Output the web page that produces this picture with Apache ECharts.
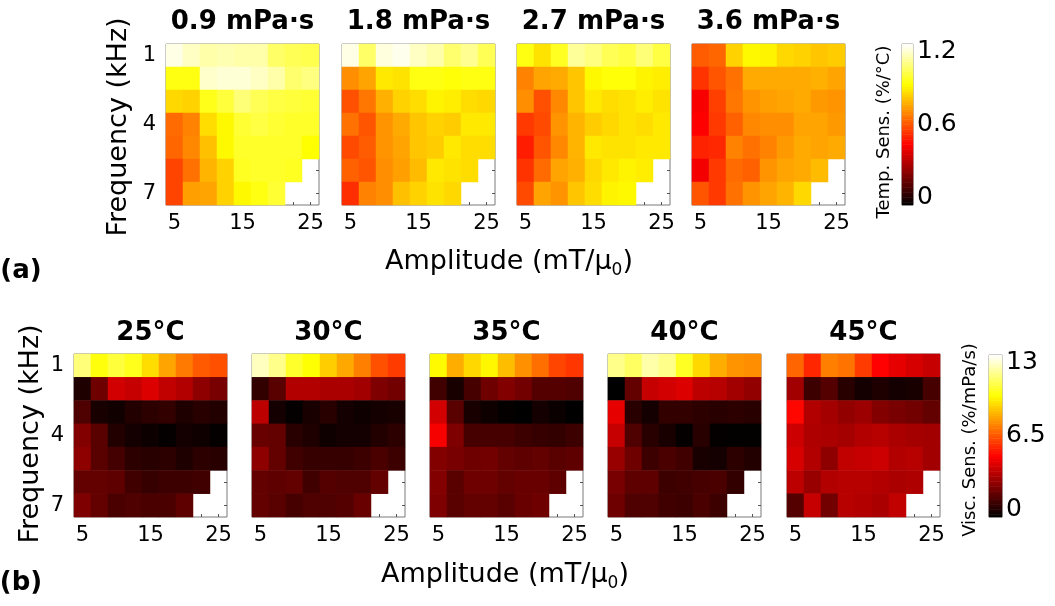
<!DOCTYPE html>
<html>
<head>
<meta charset="utf-8">
<script src="https://cdn.jsdelivr.net/npm/echarts@6/dist/echarts.min.js"></script>
<style>
  html, body { margin: 0; padding: 0; background: #fff; }
  #main { width: 1055px; height: 606px; }
</style>
</head>
<body>
<div id="main"></div>
<script>
// Axis categories
const amplitudes = ['5', '7.5', '10', '12.5', '15', '17.5', '20', '22.5', '25'];
const frequencies = ['1', '2', '3', '4', '5', '6', '7'];
const viscosityTitles = ['0.9 mPa·s', '1.8 mPa·s', '2.7 mPa·s', '3.6 mPa·s'];
const temperatureTitles = ['25°C', '30°C', '35°C', '40°C', '45°C'];
const tempTicks = [0, 0.6, 1.2];
const viscTicks = [0, 6.5, 13];

// (a) temperature sensitivity (%/°C), rows = frequency 1..7 kHz, cols = amplitude 5..25
const tempSens09 = [
  [1.17, 1.13, 1.10, 1.11, 1.10, 1.10, 1.02, 1.00, 0.99],
  [0.92, 0.92, 1.14, 1.15, 1.15, 1.13, 1.10, 1.03, 1.05],
  [0.83, 0.82, 0.93, 0.97, 1.04, 1.00, 0.98, 0.97, 0.96],
  [0.64, 0.68, 0.84, 0.89, 0.96, 0.98, 0.96, 0.95, 0.95],
  [0.63, 0.69, 0.79, 0.89, 0.95, 0.95, 0.95, 0.95, 0.90],
  [0.57, 0.65, 0.77, 0.82, 0.94, 0.95, 0.95, 0.94, null],
  [0.57, 0.73, 0.74, 0.82, 0.89, 0.92, 0.96, null, null]
];
const tempSens18 = [
  [1.17, 1.02, 1.16, 1.18, 1.13, 1.10, 1.03, 1.07, 1.00],
  [0.70, 0.74, 0.86, 0.85, 0.92, 0.92, 0.91, 0.92, 0.92],
  [0.59, 0.66, 0.76, 0.82, 0.84, 0.88, 0.87, 0.84, 0.83],
  [0.65, 0.60, 0.71, 0.75, 0.80, 0.82, 0.81, 0.86, 0.86],
  [0.58, 0.61, 0.71, 0.74, 0.80, 0.81, 0.86, 0.84, 0.84],
  [0.62, 0.60, 0.70, 0.73, 0.78, 0.86, 0.85, 0.84, null],
  [0.53, 0.68, 0.70, 0.79, 0.82, 0.85, 0.83, null, null]
];
const tempSens27 = [
  [0.92, 0.85, 0.94, 1.08, 1.05, 1.00, 0.98, 1.04, 0.98],
  [0.68, 0.74, 0.75, 0.80, 0.89, 0.91, 0.91, 0.88, 0.87],
  [0.70, 0.59, 0.69, 0.80, 0.86, 0.84, 0.85, 0.87, 0.85],
  [0.55, 0.58, 0.71, 0.77, 0.81, 0.83, 0.85, 0.84, 0.86],
  [0.50, 0.60, 0.69, 0.77, 0.86, 0.85, 0.85, 0.86, 0.86],
  [0.54, 0.64, 0.74, 0.76, 0.83, 0.86, 0.88, 0.87, null],
  [0.58, 0.74, 0.71, 0.80, 0.84, 0.88, 0.89, null, null]
];
const tempSens36 = [
  [0.61, 0.63, 0.82, 0.89, 0.88, 0.83, 0.82, 0.80, 0.81],
  [0.54, 0.60, 0.65, 0.75, 0.75, 0.75, 0.75, 0.76, 0.74],
  [0.44, 0.56, 0.66, 0.71, 0.73, 0.74, 0.75, 0.72, 0.71],
  [0.45, 0.55, 0.62, 0.69, 0.70, 0.70, 0.74, 0.74, 0.72],
  [0.51, 0.52, 0.68, 0.65, 0.68, 0.72, 0.75, 0.74, 0.75],
  [0.43, 0.55, 0.64, 0.62, 0.71, 0.74, 0.75, 0.78, null],
  [0.60, 0.55, 0.65, 0.71, 0.74, 0.77, 0.83, null, null]
];

// (b) viscosity sensitivity (%/mPa/s)
const viscSens25 = [
  [11.3, 9.9, 10.5, 10.1, 9.1, 8.0, 7.2, 6.6, 6.4],
  [0.57, 2.1, 4.0, 3.8, 4.2, 3.7, 3.4, 2.7, 2.3],
  [1.5, 0.48, 0.3, 0.67, 0.86, 0.96, 0.57, 0.76, 0.67],
  [2.5, 1.7, 0.67, 0.38, 0.23, 0.1, 0.38, 0.29, 0.1],
  [2.7, 1.7, 1.3, 0.86, 0.76, 0.86, 0.57, 0.86, 0.76],
  [1.9, 1.9, 1.8, 1.24, 1.05, 1.15, 1.15, 1.24, null],
  [2.4, 1.9, 1.43, 1.5, 1.43, 1.43, 1.8, null, null]
];
const viscSens30 = [
  [12.2, 11.5, 10.3, 9.8, 8.8, 8.1, 7.3, 6.4, 6.0],
  [0.96, 1.7, 3.4, 3.4, 3.25, 3.25, 3.1, 2.4, 2.2],
  [3.6, 0.38, 0.1, 0.48, 0.76, 0.38, 0.29, 0.38, 0.48],
  [2.0, 1.9, 0.76, 0.57, 0.29, 0.38, 0.38, 0.67, 0.86],
  [2.7, 1.9, 1.24, 1.05, 1.05, 1.05, 1.15, 1.43, 1.15],
  [1.9, 1.8, 1.9, 1.24, 1.62, 1.5, 1.5, 1.9, null],
  [1.9, 1.7, 1.34, 1.5, 1.5, 1.62, 2.0, null, null]
];
const viscSens35 = [
  [9.65, 8.2, 9.0, 9.6, 8.5, 7.65, 7.0, 6.2, 5.9],
  [1.24, 0.48, 1.34, 2.1, 2.5, 2.2, 1.62, 1.62, 1.5],
  [4.0, 1.7, 0.48, 0.29, 0.1, 0.0, 0.38, 0.19, 0.0],
  [4.7, 2.4, 1.34, 1.34, 1.34, 1.15, 1.05, 0.96, 1.15],
  [2.5, 2.3, 2.1, 2.2, 1.9, 1.8, 1.9, 1.7, 1.8],
  [2.5, 1.7, 2.1, 2.1, 1.9, 2.0, 2.0, 1.8, null],
  [2.4, 1.7, 1.9, 1.9, 1.7, 2.0, 2.1, null, null]
];
const viscSens40 = [
  [11.5, 11.0, 11.9, 11.5, 10.2, 9.0, 8.2, 7.7, 7.6],
  [0.0, 1.9, 3.8, 4.0, 4.2, 3.6, 3.5, 3.1, 2.8],
  [4.4, 0.76, 0.38, 0.96, 0.96, 0.86, 0.76, 0.86, 0.76],
  [3.8, 1.5, 0.76, 0.48, 0.1, 0.76, 0.1, 0.05, 0.05],
  [2.9, 2.1, 1.15, 1.43, 1.24, 0.48, 0.38, 0.86, 0.67],
  [2.3, 1.8, 1.8, 1.15, 1.24, 1.34, 1.43, 0.96, null],
  [2.1, 1.5, 1.5, 1.24, 1.15, 1.43, 1.15, null, null]
];
const viscSens45 = [
  [6.8, 5.6, 7.3, 7.1, 6.0, 4.9, 4.4, 4.1, 3.8],
  [3.1, 1.15, 1.62, 0.76, 0.38, 0.57, 0.38, 0.48, 1.34],
  [5.0, 3.4, 3.15, 2.8, 3.0, 2.5, 2.3, 2.2, 1.9],
  [3.9, 3.35, 3.25, 3.15, 3.4, 3.5, 3.25, 3.15, 3.1],
  [4.1, 3.4, 2.7, 3.7, 3.8, 3.9, 3.4, 3.5, 3.1],
  [3.6, 2.9, 3.4, 3.5, 3.5, 3.4, 3.25, 3.35, null],
  [1.62, 3.8, 2.2, 3.5, 3.4, 3.25, 3.7, null, null]
];

const tempPanels = [tempSens09, tempSens18, tempSens27, tempSens36];
const viscPanels = [viscSens25, viscSens30, viscSens35, viscSens40, viscSens45];

// ---- styling / layout ----
const FONT = 'DejaVu Sans';
const BORDER = '#7a7a7a';
const TICK = '#555';

// MATLAB-style "hot" colormap sampled at evenly spaced stops
function hotStops(n) {
  const out = [];
  for (let i = 0; i < n; i++) {
    const t = i / (n - 1);
    const r = Math.min(1, t / 0.375);
    const g = Math.max(0, Math.min(1, (t - 0.375) / 0.375));
    const b = Math.max(0, Math.min(1, (t - 0.75) / 0.25));
    out.push('rgb(' + Math.round(r * 255) + ',' + Math.round(g * 255) + ',' + Math.round(b * 255) + ')');
  }
  return out;
}
const HOT = hotStops(49);

const grids = [], xAxes = [], yAxes = [], series = [];
const tempSeriesIdx = [], viscSeriesIdx = [];

function matrixToCells(m) {
  const cells = [];
  m.forEach((row, r) => row.forEach((v, c) => {
    cells.push([c, r, v === null ? '-' : v]);
  }));
  return cells;
}

function addHeatmap(box, matrix, showYLabels, group) {
  const g = grids.length;
  grids.push({ left: box.left, top: box.top, width: box.width, height: box.height,
    show: true, borderColor: BORDER, borderWidth: 1, backgroundColor: 'transparent', containLabel: false });
  const tick = { show: true, inside: true, length: 3, alignWithLabel: true, interval: 0, lineStyle: { color: TICK, width: 1 } };
  const xi = xAxes.length;
  xAxes.push({ type: 'category', gridIndex: g, data: amplitudes, position: 'bottom',
    axisLine: { show: false }, axisTick: tick, splitLine: { show: false },
    axisLabel: { interval: 3, fontSize: 21, fontFamily: FONT, color: '#000', margin: 8 } });
  xAxes.push({ type: 'category', gridIndex: g, data: amplitudes, position: 'top',
    axisLine: { show: false }, axisTick: tick, axisLabel: { show: false }, splitLine: { show: false } });
  const yi = yAxes.length;
  yAxes.push({ type: 'category', gridIndex: g, data: frequencies, inverse: true, position: 'left',
    axisLine: { show: false }, axisTick: tick, splitLine: { show: false },
    axisLabel: { show: showYLabels, interval: 2, fontSize: 21, fontFamily: FONT, color: '#000', margin: 10 } });
  yAxes.push({ type: 'category', gridIndex: g, data: frequencies, inverse: true, position: 'right',
    axisLine: { show: false }, axisTick: tick, axisLabel: { show: false }, splitLine: { show: false } });
  group.push(series.length);
  series.push({ type: 'heatmap', xAxisIndex: xi, yAxisIndex: yi, data: matrixToCells(matrix),
    progressive: 0, emphasis: { disabled: true }, silent: true });
}

// Colour bar: a one-column heatmap of the scale, with a value axis for its labels.
// The label axis is padded a few pixels at each end so the end labels sit inside the bar.
function addColorbar(box, ticks, group) {
  const g = grids.length;
  const max = ticks[ticks.length - 1];
  const levels = [];
  for (let i = 0; i < 64; i++) levels.push((i + 0.5) / 64 * max);
  const perPx = max / (box.height - 15);
  grids.push({ left: box.left, top: box.top, width: box.width, height: box.height,
    show: true, borderColor: BORDER, borderWidth: 1, backgroundColor: 'transparent' });
  const xi = xAxes.length;
  xAxes.push({ type: 'category', gridIndex: g, data: ['c'], show: false });
  const yi = yAxes.length;
  yAxes.push({ type: 'category', gridIndex: g, data: levels.map((_, i) => String(i)), show: false });
  yAxes.push({ type: 'value', gridIndex: g, position: 'right', min: -8 * perPx, max: max + 7 * perPx,
    axisLine: { show: false }, splitLine: { show: false },
    axisTick: { show: true, inside: true, length: 3, lineStyle: { color: TICK }, customValues: [ticks[1]] },
    axisLabel: { fontSize: 25, fontFamily: FONT, color: '#000', margin: 4,
      customValues: ticks, formatter: v => String(v) } });
  group.push(series.length);
  series.push({ type: 'heatmap', xAxisIndex: xi, yAxisIndex: yi,
    data: levels.map((v, i) => [0, i, v]), progressive: 0, emphasis: { disabled: true }, silent: true });
}

// Row (a): viscosity panels
const rowA = { top: 44, height: 161, width: 153, lefts: [166, 342, 517, 692] };
tempPanels.forEach((m, i) => addHeatmap({ left: rowA.lefts[i], top: rowA.top, width: rowA.width, height: rowA.height }, m, i === 0, tempSeriesIdx));
addColorbar({ left: 902, top: 44, width: 11, height: 161 }, tempTicks, tempSeriesIdx);

// Row (b): temperature panels
const rowB = { top: 354, height: 163, width: 153, lefts: [74, 252, 430, 608, 787] };
viscPanels.forEach((m, i) => addHeatmap({ left: rowB.lefts[i], top: rowB.top, width: rowB.width, height: rowB.height }, m, i === 0, viscSeriesIdx));
addColorbar({ left: 989, top: 355, width: 13, height: 162 }, viscTicks, viscSeriesIdx);

// Text elements
function txt(text, x, y, font, opts) {
  return Object.assign({ type: 'text', x: x, y: y, silent: true,
    style: Object.assign({ text: text, font: font, fill: '#000', textAlign: 'center', textVerticalAlign: 'middle' }, (opts && opts.style) || {}) },
    (opts && opts.el) || {});
}
const graphics = [];
viscosityTitles.forEach((t, i) => graphics.push(txt(t, rowA.lefts[i] + rowA.width / 2, 22, 'bold 26px "' + FONT + '"')));
temperatureTitles.forEach((t, i) => graphics.push(txt(t, rowB.lefts[i] + rowB.width / 2, 333, 'bold 26px "' + FONT + '"')));
graphics.push(txt('Frequency (kHz)', 119, 127, '27px "' + FONT + '"', { el: { rotation: Math.PI / 2 } }));
graphics.push(txt('Frequency (kHz)', 31, 434, '27px "' + FONT + '"', { el: { rotation: Math.PI / 2 } }));
const ampRich = { n: { fontSize: 27, fontFamily: FONT, lineHeight: 34 }, s: { fontSize: 17, fontFamily: FONT, lineHeight: 17, verticalAlign: 'bottom' } };
graphics.push(txt('{n|Amplitude (mT/μ}{s|0}{n|)}', 509, 262, '27px "' + FONT + '"', { style: { rich: ampRich } }));
graphics.push(txt('{n|Amplitude (mT/μ}{s|0}{n|)}', 505, 575, '27px "' + FONT + '"', { style: { rich: ampRich } }));
graphics.push(txt('(a)', 21, 271, 'bold 26px "' + FONT + '"'));
graphics.push(txt('(b)', 21, 583, 'bold 26px "' + FONT + '"'));
graphics.push(txt('Temp. Sens. (%/°C)', 884, 132, '18px "' + FONT + '"', { el: { rotation: Math.PI / 2 } }));
graphics.push(txt('Visc. Sens. (%/mPa/s)', 970, 440, '18px "' + FONT + '"', { el: { rotation: Math.PI / 2 } }));

const chart = echarts.init(document.getElementById('main'), null, { renderer: 'canvas' });
chart.setOption({
  animation: false,
  backgroundColor: '#fff',
  grid: grids,
  xAxis: xAxes,
  yAxis: yAxes,
  visualMap: [
    { type: 'continuous', show: false, min: 0, max: 1.2, seriesIndex: tempSeriesIdx, inRange: { color: HOT } },
    { type: 'continuous', show: false, min: 0, max: 13, seriesIndex: viscSeriesIdx, inRange: { color: HOT } }
  ],
  series: series,
  graphic: graphics
});
</script>
</body>
</html>
